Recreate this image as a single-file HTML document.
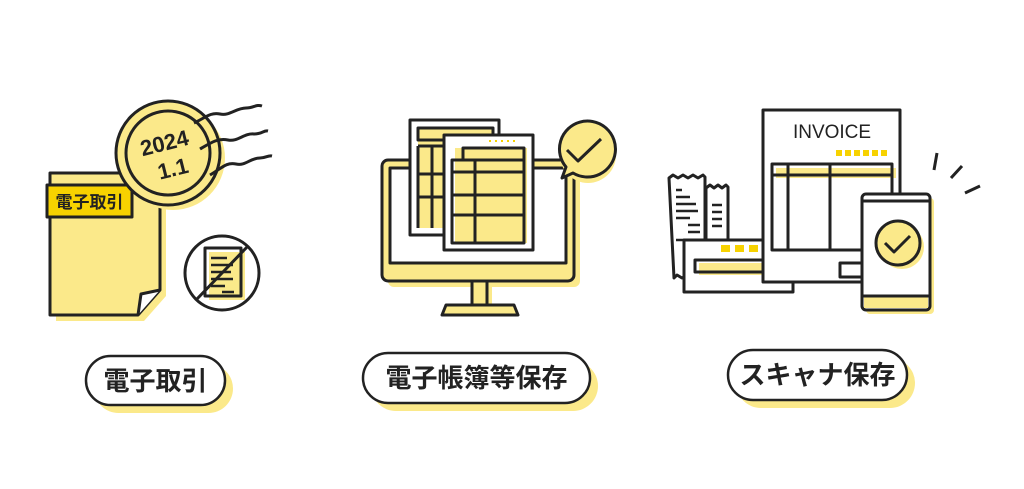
<!DOCTYPE html>
<html><head><meta charset="utf-8"><style>
html,body{margin:0;padding:0;background:#fff;}
svg{display:block}
text{font-family:"Liberation Sans","Noto Sans CJK JP",sans-serif;}
</style></head><body>
<svg width="1024" height="489" viewBox="0 0 1024 489" xmlns="http://www.w3.org/2000/svg">
<g stroke="#222" stroke-width="3" fill="none" stroke-linejoin="round">
<!-- LEFT: document -->
<path d="M56 179 H166 V296 L144 321 H56 Z" fill="#fbe98a" stroke="none"/>
<path d="M50 173 H160 V290 L138 315 H50 Z" fill="#fbe98a"/>
<path d="M138 315 L141 294 L160 290" fill="#fff"/>
<rect x="47" y="185" width="85" height="32" fill="#f7d200"/>
<text x="89.5" y="208" font-size="17" font-weight="bold" text-anchor="middle" fill="#222" stroke="none">電子取引</text>
<!-- stamp -->
<circle cx="173" cy="158" r="52" fill="#fbe98a" stroke="none"/>
<circle cx="168" cy="153" r="52" fill="#fbe98a"/>
<circle cx="168" cy="153" r="42"/>
<g transform="rotate(-14 168 153)" stroke="none" fill="#222" font-size="22" font-weight="bold" text-anchor="middle">
<text x="167" y="150">2024</text><text x="169" y="177">1.1</text></g>
<path d="M194 123 C205 118 210 112 220 114 C230 116 236 108 246 108 C254 108 256 104 262 106"/>
<path d="M200 149 C212 142 218 138 228 140 C238 142 244 133 254 134 C262 134 264 130 268 131"/>
<path d="M210 175 C222 168 226 162 236 164 C246 166 250 158 260 158 C266 158 268 155 272 156"/>
<!-- no paper -->
<rect x="209" y="252" width="36" height="48" fill="#fbe98a" stroke="none"/>
<rect x="205" y="248" width="36" height="48" fill="none"/>
<path d="M211 258h16M211 265h22M211 272h20M211 279h22M211 286h14M222 292h12" stroke-width="2.5"/>
<circle cx="222" cy="273" r="37"/>
<path d="M196 300 L248 246"/>

<!-- MIDDLE: monitor -->
<rect x="388" y="166" width="192" height="121" rx="6" fill="#fbe98a" stroke="none"/>
<rect x="382" y="160" width="192" height="121" rx="6" fill="#fbe98a"/>
<rect x="390" y="168" width="176" height="95" fill="#fff" stroke-width="3"/>
<rect x="477" y="285" width="15" height="26" fill="#fbe98a" stroke="none"/>
<rect x="472" y="281" width="15" height="24" fill="#fbe98a"/>
<path d="M446 305 H514 L518 315 H442 Z" fill="#fbe98a"/>
<!-- back doc -->
<rect x="410" y="120" width="89" height="115" fill="#fff"/>
<rect x="418" y="128" width="75" height="100" fill="#fbe98a" stroke="none"/>
<rect x="418" y="128" width="75" height="12"/>
<path d="M418 146 V228 M418 146h26 M432 146 V228 M418 174h26 M418 197h26"/>
<!-- front doc -->
<rect x="444" y="135" width="89" height="115" fill="#fff"/>
<rect x="455" y="148" width="72" height="95" fill="#fbe98a" stroke="none"/>
<path d="M463 160 V148 H524 V160" />
<rect x="452" y="160" width="72" height="83"/>
<path d="M475 160 V243 M452 172 H524 M452 195 H524 M452 215 H524"/>
<path d="M489 141h2M495 141h2M501 141h2M507 141h2M513 141h2" stroke="#f7d200" stroke-width="2"/>
<!-- bubble -->
<circle cx="588" cy="155" r="28" fill="#fbe98a" stroke="none"/>
<path d="M566 167 A28 28 0 1 1 573 173 L562 178 Z" fill="#fbe98a"/>
<path d="M567 150 L578 161 L601 139"/>

<!-- RIGHT -->
<!-- receipts -->
<path d="M706 188 l4 -3 l4 3 l4 -3 l4 3 l4 -3 l2 2 V240 H706 Z" fill="#fff"/>
<path d="M712 205h10M712 212h10M712 219h10M712 226h10" stroke-width="2.5"/>
<path d="M669 178 l4 -3 l5 3 l5 -3 l5 3 l5 -3 l5 3 l5 -3 l2 2 V275 l-4 3 l-4 -3 l-5 3 l-5 -3 l-5 3 l-5 -3 l-3 3 Z" fill="#fff"/>
<path d="M676 190h6M676 197h14M676 204h20M676 211h22M676 218h14M688 225h12M688 232h12M676 240h12" stroke-width="2.5"/>
<!-- card -->
<rect x="684" y="240" width="109" height="52" fill="#fff"/>
<rect x="721" y="245" width="9" height="7" fill="#f7d200" stroke="none"/>
<rect x="735" y="245" width="9" height="7" fill="#f7d200" stroke="none"/>
<rect x="749" y="245" width="9" height="7" fill="#f7d200" stroke="none"/>
<rect x="699" y="263" width="70" height="12" fill="#fbe98a" stroke="none"/>
<rect x="695" y="260" width="70" height="12"/>
<!-- invoice -->
<rect x="763" y="110" width="137" height="172" fill="#fff"/>
<text x="832" y="138" font-size="19" text-anchor="middle" fill="#222" stroke="none">INVOICE</text>
<g fill="#f7d200" stroke="none"><rect x="836" y="150" width="6" height="6"/><rect x="845" y="150" width="6" height="6"/><rect x="854" y="150" width="6" height="6"/><rect x="863" y="150" width="6" height="6"/><rect x="872" y="150" width="6" height="6"/><rect x="881" y="150" width="6" height="6"/></g>
<rect x="776" y="168" width="120" height="10" fill="#fbe98a" stroke="none"/>
<rect x="772" y="164" width="120" height="86"/>
<path d="M772 175 H892 M788 164 V250 M830 164 V250"/>
<rect x="840" y="263" width="25" height="14"/>
<!-- phone -->
<rect x="866" y="198" width="68" height="116" rx="4" fill="#fbe98a" stroke="none"/>
<rect x="862" y="194" width="68" height="116" rx="4" fill="#fff"/>
<rect x="864" y="296" width="64" height="12" fill="#fbe98a" stroke="none"/>
<path d="M862 201 H930 M862 296 H930"/>
<circle cx="902" cy="247" r="22" fill="#fbe98a" stroke="none"/>
<circle cx="898" cy="243" r="22" fill="#fbe98a"/>
<path d="M885 243 L894 252 L910 236"/>
<path d="M937 153 L934 170 M962 166 L951 178 M980 186 L965 193"/>
</g>

<!-- Labels -->
<g stroke="#222" stroke-width="2.5">
<rect x="94" y="364" width="139" height="49" rx="24.5" fill="#fbe98a" stroke="none"/>
<rect x="86" y="356" width="139" height="49" rx="24.5" fill="#fff"/>
<rect x="371" y="361" width="227" height="50" rx="25" fill="#fbe98a" stroke="none"/>
<rect x="363" y="353" width="227" height="50" rx="25" fill="#fff"/>
<rect x="736" y="358" width="179" height="50" rx="25" fill="#fbe98a" stroke="none"/>
<rect x="728" y="350" width="179" height="50" rx="25" fill="#fff"/>
</g>
<g fill="#222" font-size="26" font-weight="bold" text-anchor="middle">
<text x="155.5" y="390">電子取引</text>
<text x="476.5" y="387">電子帳簿等保存</text>
<text x="817.5" y="384">スキャナ保存</text>
</g>
</svg>
</body></html>
